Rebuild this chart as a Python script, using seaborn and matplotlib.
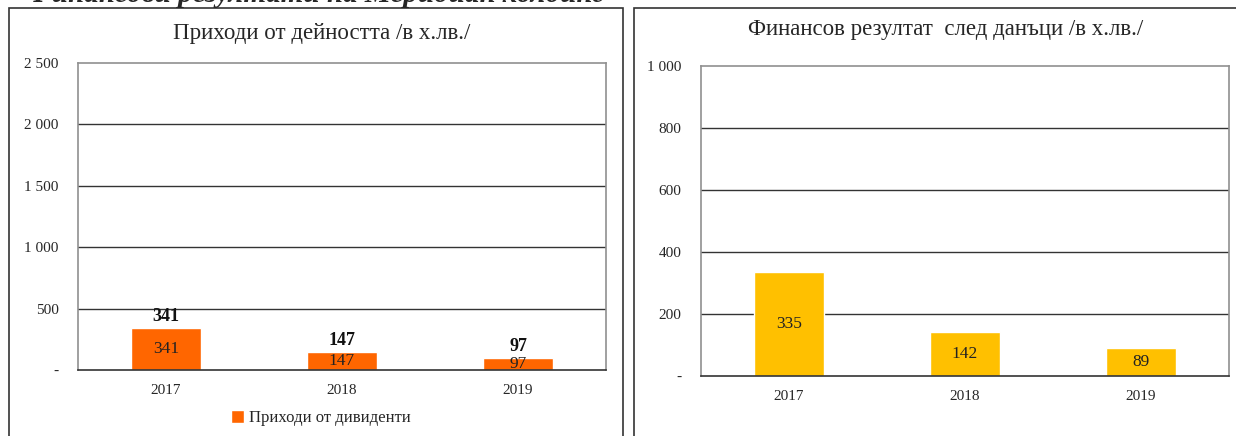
import matplotlib
matplotlib.use("Agg")
import matplotlib.pyplot as plt
from matplotlib.patches import Rectangle
import seaborn as sns
import pandas as pd

years = ["2017", "2018", "2019"]
dividend_income = [341, 147, 97]
net_result = [335, 142, 89]

left_title = "Приходи от дейността /в х.лв./"
right_title = "Финансов резултат  след данъци /в х.лв./"
legend_label = "Приходи от дивиденти"
page_heading = "Финансови резултати на Меридиан холдинг"

left_ticks = [0, 500, 1000, 1500, 2000, 2500]
left_ticklabels = ["-", "500", "1 000", "1 500", "2 000", "2 500"]
right_ticks = [0, 200, 400, 600, 800, 1000]
right_ticklabels = ["-", "200", "400", "600", "800", "1 000"]

orange = "#FF6600"
gold = "#FFC000"

sns.set_theme(style="white")
plt.rcParams['font.family'] = ['Liberation Serif', 'DejaVu Serif']

W, H = 1236, 436
fig = plt.figure(figsize=(W / 100, H / 100), dpi=100)


def px_axes(x0, y0, x1, y1):
    return fig.add_axes([x0 / W, 1 - y1 / H, (x1 - x0) / W, (y1 - y0) / H])


# panel frames
fig.patches.append(Rectangle((9 / W, -0.1), (623 - 9) / W, 1.1 - 8 / H,
                             transform=fig.transFigure, fill=False,
                             edgecolor="#333333", linewidth=1.2))
fig.patches.append(Rectangle((634 / W, -0.1), 0.8, 1.1 - 8 / H,
                             transform=fig.transFigure, fill=False,
                             edgecolor="#333333", linewidth=1.2))

# page heading, only its lower part shows above the frames
fig.text(603 / W, 1 + 6 / H, page_heading, fontsize=21, fontweight="bold",
         fontstyle="italic", va="center", ha="right")

df_left = pd.DataFrame({"year": years, "value": dividend_income})
df_right = pd.DataFrame({"year": years, "value": net_result})


def style_axes(ax, ticks, ticklabels, title, title_x, title_y):
    ax.set_ylim(ticks[0], ticks[-1])
    ax.set_yticks(ticks)
    ax.set_yticklabels(ticklabels, fontsize=11)
    ax.tick_params(axis="x", labelsize=11, pad=10, length=0)
    ax.tick_params(axis="y", pad=14, length=0)
    ax.set_xlabel("")
    ax.set_ylabel("")
    for t in ticks[1:-1]:
        ax.axhline(t, color="#333333", linewidth=1, zorder=0)
    for s in ["top", "right", "left"]:
        ax.spines[s].set_color("#909090")
        ax.spines[s].set_linewidth(1.2)
    ax.spines["bottom"].set_color("#333333")
    ax.spines["bottom"].set_linewidth(1.2)
    fig.text(title_x / W, 1 - title_y / H, title, fontsize=16.5,
             ha="center", va="center")


# left chart
axl = px_axes(78, 63, 606, 370)
sns.barplot(data=df_left, x="year", y="value", color=orange, width=0.4,
            saturation=1, ax=axl, label=legend_label, zorder=2)
style_axes(axl, left_ticks, left_ticklabels, left_title, 322, 33)
for i, v in enumerate(dividend_income):
    axl.text(i, v / 2, str(v), ha="center", va="center", fontsize=12.5, color="#222222")
    axl.text(i, v + 25, str(v), ha="center", va="bottom", fontsize=13,
             fontweight="bold", color="#111111")
leg = axl.legend(loc="center", bbox_to_anchor=(0.46, -48 / 307), frameon=False,
                 fontsize=12, handlelength=0.8, handleheight=0.8, handletextpad=0.3)

# right chart
axr = px_axes(701, 66, 1229, 376)
sns.barplot(data=df_right, x="year", y="value", color=gold, width=0.4,
            saturation=1, ax=axr, zorder=2)
style_axes(axr, right_ticks, right_ticklabels, right_title, 946, 30)
for i, v in enumerate(net_result):
    axr.text(i, v / 2, str(v), ha="center", va="center", fontsize=12.5, color="#222222")

fig.savefig("out.png", dpi=100)
